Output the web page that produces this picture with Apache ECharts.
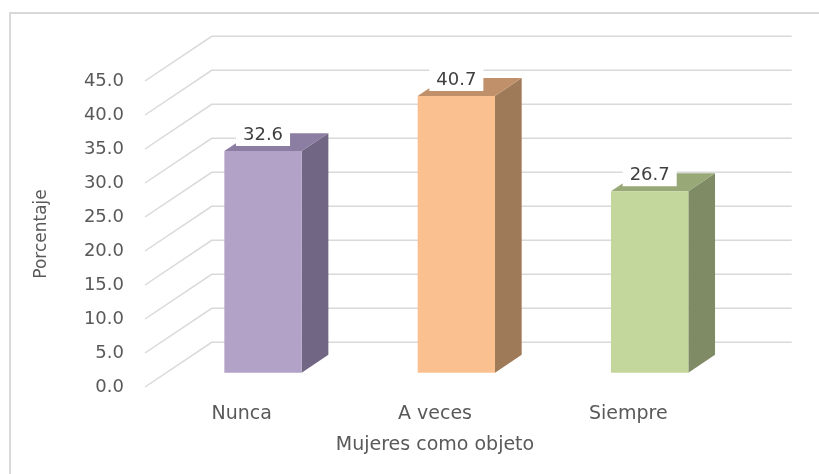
<!DOCTYPE html>
<html>
<head>
<meta charset="utf-8">
<script src="https://cdn.jsdelivr.net/npm/echarts@6/dist/echarts.min.js"></script>
<style>
  html, body { margin: 0; padding: 0; background: #fff; }
  #chart { width: 819px; height: 474px; }
</style>
</head>
<body>
<div id="chart"></div>
<script>
// datos
var categories = ['Nunca', 'A veces', 'Siempre'];
var porcentajes = [32.6, 40.7, 26.7];
var yTicks = [0, 5, 10, 15, 20, 25, 30, 35, 40, 45];

// colores de las caras (frente, lado, arriba)
var frontColors = ['#B3A2C7', '#FAC090', '#C3D69B'];
var sideColors = ['#716683', '#9F7A58', '#7F8B64'];
var topColors = ['#8C7DA2', '#C0906B', '#98A877'];

// desplazamiento de profundidad 3D (px)
var DEPTH_X = 66.7;
var DEPTH_Y = 44.7;
var BAR_FRONT = 0.32;
var BAR_DEPTH = 0.4;

var FONT = 'DejaVu Sans';

function renderGrid(params, api) {
  var cs = params.coordSys;
  var y = api.coord([0, api.value(1)])[1];
  var x0 = cs.x, x1 = cs.x + cs.width;
  return {
    type: 'polyline',
    shape: { points: [[x0, y], [x0 + DEPTH_X, y - DEPTH_Y], [x1 + DEPTH_X, y - DEPTH_Y]] },
    style: { stroke: '#D9D9D9', lineWidth: 1.5, fill: null }
  };
}

function renderBar(params, api) {
  var i = api.value(0);
  var val = api.value(1);
  var top = api.coord([i, val]);
  var base = api.coord([i, 0]);
  var w = api.size([1, 0])[0] * 0.4;
  var l = top[0] - w / 2 + DEPTH_X * BAR_FRONT;
  var r = l + w;
  var t = top[1] - DEPTH_Y * BAR_FRONT;
  var b = base[1] - DEPTH_Y * BAR_FRONT;
  var dx = DEPTH_X * BAR_DEPTH, dy = DEPTH_Y * BAR_DEPTH;
  return {
    type: 'group',
    children: [
      {
        type: 'polygon',
        shape: { points: [[r, t], [r + dx, t - dy], [r + dx, b - dy], [r, b]] },
        style: { fill: sideColors[i] }
      },
      {
        type: 'polygon',
        shape: { points: [[l, t], [r, t], [r + dx, t - dy], [l + dx, t - dy]] },
        style: { fill: topColors[i] }
      },
      {
        type: 'rect',
        shape: { x: l, y: t, width: w, height: b - t },
        style: { fill: frontColors[i] }
      },
      {
        type: 'text',
        x: (l + r) / 2,
        y: t - 5,
        style: {
          text: val.toFixed(1),
          align: 'center',
          verticalAlign: 'bottom',
          fill: '#404040',
          font: '18px ' + FONT,
          backgroundColor: '#fff',
          padding: [3, 7, 2, 7]
        }
      }
    ]
  };
}

var chart = echarts.init(document.getElementById('chart'));
chart.setOption({
  backgroundColor: '#fff',
  animation: false,
  graphic: [{
    type: 'rect',
    shape: { x: 10, y: 13, width: 830, height: 500 },
    style: { fill: null, stroke: '#D9D9D9', lineWidth: 2 },
    silent: true
  }],
  grid: { left: 145, right: 94, top: 81, bottom: 87 },
  xAxis: {
    type: 'category',
    data: categories,
    axisLine: { show: false },
    axisTick: { show: false },
    axisLabel: { color: '#595959', fontSize: 19, fontFamily: FONT, margin: 18 },
    name: 'Mujeres como objeto',
    nameLocation: 'middle',
    nameGap: 49,
    nameTextStyle: { color: '#595959', fontSize: 19, fontFamily: FONT }
  },
  yAxis: {
    type: 'value',
    min: 0,
    max: 45,
    interval: 5,
    axisLine: { show: false },
    axisTick: { show: false },
    splitLine: { show: false },
    axisLabel: {
      color: '#595959', fontSize: 18, fontFamily: FONT, margin: 21,
      formatter: function (v) { return v.toFixed(1); }
    },
    name: 'Porcentaje',
    nameLocation: 'middle',
    nameGap: 95,
    nameTextStyle: { color: '#595959', fontSize: 17, fontFamily: FONT }
  },
  series: [
    {
      type: 'custom',
      renderItem: renderGrid,
      silent: true,
      data: yTicks.map(function (v) { return [0, v]; })
    },
    {
      type: 'custom',
      renderItem: renderBar,
      data: porcentajes.map(function (v, i) { return [i, v]; })
    }
  ]
});
</script>
</body>
</html>
